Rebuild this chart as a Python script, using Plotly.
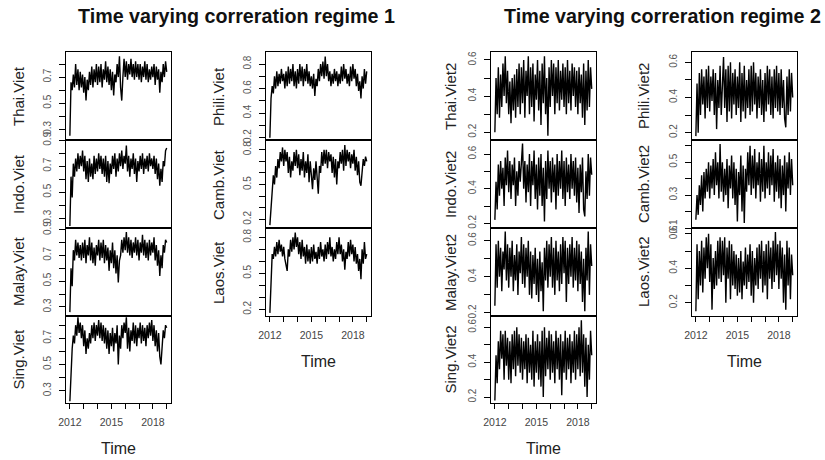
import plotly.graph_objects as go

# ---------------- data (monthly, Jan 2012 .. Jan 2019) ----------------
start_year = 2012.0
n_months = 85
time = [start_year + m / 12 for m in range(n_months)]

thai_viet = [0.25, 0.66, 0.60, 0.72, 0.62, 0.80, 0.64, 0.76, 0.60, 0.74, 0.62, 0.72,
             0.58, 0.70, 0.52, 0.68, 0.60, 0.74, 0.64, 0.78, 0.62, 0.76, 0.66, 0.80,
             0.64, 0.78, 0.66, 0.80, 0.62, 0.76, 0.68, 0.82, 0.66, 0.78, 0.64, 0.76,
             0.60, 0.74, 0.56, 0.72, 0.66, 0.80, 0.70, 0.86, 0.62, 0.52, 0.70, 0.84,
             0.70, 0.82, 0.68, 0.80, 0.72, 0.84, 0.70, 0.80, 0.68, 0.82, 0.70, 0.80,
             0.68, 0.80, 0.66, 0.78, 0.70, 0.82, 0.68, 0.80, 0.66, 0.76, 0.68, 0.78,
             0.70, 0.80, 0.64, 0.78, 0.68, 0.76, 0.58, 0.74, 0.66, 0.80, 0.70, 0.82,
             0.74]
indo_viet = [0.24, 0.62, 0.46, 0.72, 0.62, 0.76, 0.66, 0.80, 0.68, 0.78, 0.70, 0.82,
             0.66, 0.78, 0.60, 0.74, 0.58, 0.76, 0.62, 0.72, 0.60, 0.78, 0.64, 0.76,
             0.66, 0.80, 0.68, 0.78, 0.64, 0.76, 0.62, 0.78, 0.58, 0.74, 0.57, 0.72,
             0.64, 0.78, 0.68, 0.80, 0.62, 0.76, 0.66, 0.80, 0.70, 0.82, 0.68, 0.78,
             0.72, 0.86, 0.66, 0.78, 0.62, 0.76, 0.68, 0.80, 0.64, 0.76, 0.58, 0.74,
             0.66, 0.78, 0.68, 0.80, 0.64, 0.76, 0.68, 0.78, 0.66, 0.80, 0.70, 0.76,
             0.68, 0.78, 0.64, 0.76, 0.60, 0.72, 0.55, 0.68, 0.58, 0.74, 0.70, 0.82,
             0.84]
malay_viet = [0.26, 0.60, 0.46, 0.74, 0.66, 0.82, 0.70, 0.80, 0.68, 0.78, 0.66, 0.80,
              0.68, 0.82, 0.64, 0.78, 0.70, 0.84, 0.66, 0.80, 0.64, 0.76, 0.62, 0.78,
              0.70, 0.82, 0.66, 0.80, 0.68, 0.82, 0.64, 0.78, 0.66, 0.76, 0.58, 0.74,
              0.64, 0.80, 0.60, 0.74, 0.56, 0.70, 0.49, 0.66, 0.70, 0.82, 0.72, 0.84,
              0.74, 0.88, 0.72, 0.84, 0.70, 0.82, 0.68, 0.80, 0.72, 0.84, 0.70, 0.82,
              0.66, 0.80, 0.72, 0.86, 0.70, 0.82, 0.68, 0.80, 0.66, 0.82, 0.70, 0.80,
              0.72, 0.84, 0.66, 0.78, 0.62, 0.74, 0.54, 0.70, 0.60, 0.78, 0.72, 0.82,
              0.80]
sing_viet = [0.22, 0.46, 0.62, 0.72, 0.66, 0.80, 0.72, 0.86, 0.74, 0.82, 0.70, 0.80,
             0.64, 0.76, 0.58, 0.70, 0.62, 0.74, 0.66, 0.80, 0.70, 0.82, 0.68, 0.80,
             0.72, 0.84, 0.70, 0.82, 0.68, 0.80, 0.66, 0.78, 0.62, 0.76, 0.58, 0.74,
             0.64, 0.78, 0.60, 0.74, 0.66, 0.80, 0.50, 0.72, 0.62, 0.80, 0.70, 0.82,
             0.74, 0.86, 0.62, 0.78, 0.60, 0.76, 0.68, 0.82, 0.66, 0.80, 0.64, 0.78,
             0.70, 0.82, 0.66, 0.80, 0.68, 0.78, 0.64, 0.80, 0.70, 0.82, 0.72, 0.84,
             0.68, 0.80, 0.64, 0.76, 0.60, 0.74, 0.56, 0.50, 0.62, 0.76, 0.70, 0.80,
             0.78]
phili_viet = [0.20, 0.52, 0.62, 0.56, 0.70, 0.60, 0.74, 0.62, 0.72, 0.64, 0.76, 0.66,
              0.72, 0.60, 0.74, 0.62, 0.78, 0.64, 0.76, 0.66, 0.80, 0.62, 0.74, 0.60,
              0.76, 0.64, 0.80, 0.66, 0.78, 0.62, 0.76, 0.66, 0.80, 0.64, 0.74, 0.62,
              0.70, 0.60, 0.72, 0.54, 0.68, 0.62, 0.76, 0.66, 0.80, 0.70, 0.82, 0.68,
              0.86, 0.70, 0.80, 0.66, 0.74, 0.62, 0.72, 0.64, 0.76, 0.66, 0.74, 0.62,
              0.72, 0.64, 0.78, 0.66, 0.80, 0.68, 0.76, 0.64, 0.72, 0.62, 0.78, 0.66,
              0.80, 0.68, 0.76, 0.62, 0.72, 0.58, 0.66, 0.52, 0.70, 0.60, 0.76, 0.64,
              0.74]
camb_viet = [0.15, 0.30, 0.42, 0.58, 0.50, 0.66, 0.56, 0.72, 0.64, 0.78, 0.70, 0.82,
             0.66, 0.80, 0.70, 0.78, 0.60, 0.74, 0.56, 0.70, 0.62, 0.78, 0.66, 0.80,
             0.64, 0.76, 0.58, 0.72, 0.62, 0.78, 0.56, 0.70, 0.60, 0.76, 0.52, 0.70,
             0.58, 0.46, 0.64, 0.54, 0.70, 0.50, 0.42, 0.66, 0.60, 0.78, 0.66, 0.80,
             0.68, 0.80, 0.64, 0.78, 0.70, 0.76, 0.60, 0.74, 0.56, 0.72, 0.50, 0.70,
             0.64, 0.78, 0.68, 0.80, 0.62, 0.84, 0.66, 0.80, 0.70, 0.78, 0.64, 0.76,
             0.68, 0.80, 0.62, 0.74, 0.58, 0.70, 0.52, 0.49, 0.60, 0.72, 0.66, 0.74,
             0.70]
laos_viet = [0.17, 0.40, 0.66, 0.62, 0.72, 0.64, 0.76, 0.66, 0.78, 0.68, 0.74, 0.64,
             0.72, 0.62, 0.58, 0.52, 0.70, 0.64, 0.78, 0.68, 0.80, 0.70, 0.84, 0.72,
             0.80, 0.66, 0.76, 0.62, 0.78, 0.64, 0.72, 0.58, 0.74, 0.60, 0.70, 0.58,
             0.72, 0.60, 0.74, 0.62, 0.68, 0.58, 0.72, 0.62, 0.76, 0.64, 0.70, 0.60,
             0.74, 0.62, 0.76, 0.66, 0.80, 0.64, 0.72, 0.60, 0.70, 0.62, 0.76, 0.66,
             0.80, 0.66, 0.74, 0.60, 0.70, 0.53, 0.68, 0.62, 0.76, 0.64, 0.78, 0.66,
             0.74, 0.60, 0.72, 0.58, 0.66, 0.52, 0.62, 0.45, 0.70, 0.58, 0.76, 0.62,
             0.66]

thai_viet2 = [0.20, 0.50, 0.30, 0.56, 0.28, 0.52, 0.34, 0.58, 0.40, 0.62, 0.36, 0.54,
              0.30, 0.48, 0.25, 0.50, 0.32, 0.52, 0.28, 0.55, 0.34, 0.58, 0.30, 0.56,
              0.36, 0.60, 0.28, 0.54, 0.40, 0.62, 0.30, 0.56, 0.34, 0.58, 0.26, 0.52,
              0.38, 0.60, 0.32, 0.54, 0.24, 0.58, 0.36, 0.62, 0.30, 0.50, 0.18, 0.56,
              0.34, 0.60, 0.40, 0.58, 0.30, 0.56, 0.36, 0.60, 0.32, 0.54, 0.38, 0.58,
              0.34, 0.56, 0.30, 0.60, 0.36, 0.54, 0.32, 0.58, 0.40, 0.56, 0.34, 0.54,
              0.30, 0.56, 0.36, 0.52, 0.28, 0.58, 0.24, 0.54, 0.32, 0.60, 0.34, 0.56,
              0.44]
indo_viet2 = [0.22, 0.44, 0.28, 0.54, 0.36, 0.56, 0.40, 0.52, 0.30, 0.58, 0.42, 0.62,
              0.38, 0.56, 0.34, 0.54, 0.42, 0.58, 0.30, 0.50, 0.36, 0.56, 0.44, 0.60,
              0.66, 0.40, 0.56, 0.32, 0.54, 0.38, 0.60, 0.30, 0.56, 0.42, 0.62, 0.34,
              0.54, 0.28, 0.58, 0.36, 0.60, 0.30, 0.52, 0.21, 0.56, 0.34, 0.62, 0.40,
              0.56, 0.32, 0.58, 0.38, 0.54, 0.28, 0.60, 0.36, 0.56, 0.40, 0.62, 0.34,
              0.56, 0.30, 0.58, 0.38, 0.54, 0.34, 0.60, 0.40, 0.56, 0.36, 0.58, 0.32,
              0.52, 0.26, 0.54, 0.38, 0.58, 0.28, 0.24, 0.50, 0.34, 0.60, 0.36, 0.58,
              0.48]
malay_viet2 = [0.24, 0.58, 0.34, 0.60, 0.40, 0.56, 0.32, 0.54, 0.44, 0.65, 0.38, 0.58,
               0.34, 0.56, 0.40, 0.60, 0.32, 0.52, 0.38, 0.58, 0.30, 0.54, 0.42, 0.62,
               0.36, 0.58, 0.34, 0.56, 0.40, 0.60, 0.30, 0.54, 0.28, 0.52, 0.36, 0.56,
               0.30, 0.50, 0.26, 0.54, 0.32, 0.48, 0.21, 0.56, 0.38, 0.60, 0.34, 0.58,
               0.40, 0.62, 0.34, 0.56, 0.30, 0.60, 0.38, 0.54, 0.32, 0.58, 0.36, 0.62,
               0.42, 0.60, 0.26, 0.56, 0.36, 0.58, 0.40, 0.62, 0.34, 0.56, 0.38, 0.60,
               0.32, 0.58, 0.36, 0.54, 0.26, 0.50, 0.21, 0.56, 0.38, 0.65, 0.30, 0.58,
               0.46]
sing_viet2 = [0.18, 0.44, 0.28, 0.52, 0.36, 0.58, 0.42, 0.56, 0.30, 0.58, 0.38, 0.54,
              0.30, 0.52, 0.28, 0.56, 0.36, 0.58, 0.32, 0.60, 0.38, 0.56, 0.34, 0.54,
              0.30, 0.52, 0.36, 0.56, 0.28, 0.54, 0.34, 0.50, 0.30, 0.58, 0.26, 0.52,
              0.34, 0.56, 0.30, 0.52, 0.26, 0.58, 0.20, 0.60, 0.32, 0.54, 0.36, 0.58,
              0.30, 0.56, 0.34, 0.52, 0.28, 0.58, 0.36, 0.54, 0.30, 0.56, 0.21, 0.52,
              0.34, 0.58, 0.30, 0.54, 0.36, 0.56, 0.28, 0.52, 0.34, 0.58, 0.30, 0.56,
              0.36, 0.60, 0.32, 0.64, 0.34, 0.56, 0.26, 0.54, 0.20, 0.50, 0.30, 0.58,
              0.44]
phili_viet2 = [0.18, 0.48, 0.20, 0.54, 0.30, 0.56, 0.36, 0.52, 0.28, 0.56, 0.34, 0.58,
               0.32, 0.52, 0.38, 0.56, 0.30, 0.54, 0.22, 0.50, 0.34, 0.58, 0.30, 0.54,
               0.63, 0.34, 0.56, 0.26, 0.58, 0.32, 0.60, 0.28, 0.54, 0.36, 0.56, 0.30,
               0.52, 0.34, 0.60, 0.26, 0.54, 0.32, 0.58, 0.28, 0.50, 0.34, 0.56, 0.30,
               0.58, 0.32, 0.60, 0.36, 0.54, 0.28, 0.52, 0.34, 0.56, 0.30, 0.50, 0.26,
               0.54, 0.32, 0.58, 0.36, 0.56, 0.30, 0.52, 0.28, 0.56, 0.34, 0.58, 0.32,
               0.54, 0.30, 0.56, 0.34, 0.50, 0.28, 0.23, 0.52, 0.30, 0.56, 0.32, 0.54,
               0.40]
camb_viet2 = [0.15, 0.30, 0.18, 0.36, 0.24, 0.42, 0.20, 0.44, 0.28, 0.46, 0.32, 0.50,
              0.28, 0.48, 0.34, 0.52, 0.30, 0.56, 0.36, 0.50, 0.28, 0.61, 0.32, 0.50,
              0.26, 0.46, 0.30, 0.52, 0.22, 0.48, 0.34, 0.54, 0.28, 0.50, 0.24, 0.46,
              0.14, 0.44, 0.30, 0.54, 0.20, 0.48, 0.13, 0.46, 0.32, 0.56, 0.36, 0.60,
              0.30, 0.54, 0.34, 0.58, 0.28, 0.50, 0.36, 0.56, 0.26, 0.52, 0.32, 0.60,
              0.28, 0.50, 0.34, 0.56, 0.30, 0.54, 0.36, 0.58, 0.26, 0.50, 0.32, 0.54,
              0.28, 0.52, 0.22, 0.48, 0.30, 0.54, 0.20, 0.50, 0.34, 0.56, 0.30, 0.52,
              0.36]
laos_viet2 = [0.15, 0.54, 0.22, 0.50, 0.30, 0.56, 0.26, 0.52, 0.34, 0.58, 0.40, 0.60,
              0.32, 0.54, 0.16, 0.46, 0.28, 0.50, 0.30, 0.56, 0.34, 0.58, 0.32, 0.56,
              0.36, 0.58, 0.20, 0.52, 0.34, 0.56, 0.22, 0.54, 0.30, 0.50, 0.28, 0.48,
              0.24, 0.46, 0.26, 0.50, 0.22, 0.44, 0.30, 0.52, 0.28, 0.48, 0.32, 0.54,
              0.24, 0.50, 0.20, 0.46, 0.30, 0.52, 0.28, 0.54, 0.34, 0.56, 0.26, 0.50,
              0.30, 0.54, 0.22, 0.56, 0.34, 0.52, 0.28, 0.56, 0.32, 0.61, 0.36, 0.54,
              0.28, 0.56, 0.34, 0.52, 0.20, 0.48, 0.16, 0.56, 0.30, 0.52, 0.22, 0.48,
              0.36]

# tick labels
x_tick_years = [2012, 2013, 2014, 2015, 2016, 2017, 2018, 2019]
x_tick_labels = ["2012", "", "", "2015", "", "", "2018", ""]

titles = ["Time varying correration regime 1", "Time varying correration regime 2"]

# ---------------- layout helpers ----------------
W, H = 825, 460
FONT = "Liberation Sans, Arial, Helvetica, sans-serif"
col_px = [(66, 171), (266, 371), (491, 596), (692, 797)]
row_px = [(52, 140), (140, 228), (228, 316), (316, 403)]
ylab_x = [18, 218, 450, 643]
x_range = [2011.72, 2019.31]


def ticks(lo, hi, shown):
    vals = [round(lo + 0.1 * k, 1) for k in range(int(round((hi - lo) / 0.1)) + 1)]
    text = [("%.1f" % v) if round(v, 1) in shown else "" for v in vals]
    return vals, text


# name, series, col, row, y-range, tick lo, tick hi, shown labels, bottom?
panels = [
    ("Thai.Viet", thai_viet, 0, 0, [0.218, 0.892], 0.3, 0.8, [0.3, 0.5, 0.7], False),
    ("Indo.Viet", indo_viet, 0, 1, [0.225, 0.902], 0.3, 0.9, [0.3, 0.5, 0.7, 0.9], False),
    ("Malay.Viet", malay_viet, 0, 2, [0.230, 0.912], 0.3, 0.9, [0.3, 0.5, 0.7, 0.9], False),
    ("Sing.Viet", sing_viet, 0, 3, [0.206, 0.870], 0.3, 0.8, [0.3, 0.5, 0.7], True),
    ("Phili.Viet", phili_viet, 1, 0, [0.181, 0.898], 0.2, 0.8, [0.2, 0.4, 0.6, 0.8], False),
    ("Camb.Viet", camb_viet, 1, 1, [0.125, 0.884], 0.2, 0.8, [0.2, 0.5, 0.8], False),
    ("Laos.Viet", laos_viet, 1, 2, [0.144, 0.878], 0.2, 0.8, [0.2, 0.5, 0.8], True),
    ("Thai.Viet2", thai_viet2, 2, 0, [0.157, 0.644], 0.2, 0.6, [0.2, 0.4, 0.6], False),
    ("Indo.Viet2", indo_viet2, 2, 1, [0.173, 0.681], 0.2, 0.6, [0.2, 0.4, 0.6], False),
    ("Malay.Viet2", malay_viet2, 2, 2, [0.183, 0.670], 0.2, 0.6, [0.2, 0.4, 0.6], False),
    ("Sing.Viet2", sing_viet2, 2, 3, [0.166, 0.665], 0.2, 0.6, [0.2, 0.4, 0.6], True),
    ("Phili.Viet2", phili_viet2, 3, 0, [0.158, 0.659], 0.2, 0.6, [0.2, 0.4, 0.6], False),
    ("Camb.Viet2", camb_viet2, 3, 1, [0.100, 0.635], 0.1, 0.6, [0.1, 0.3, 0.5], False),
    ("Laos.Viet2", laos_viet2, 3, 2, [0.123, 0.634], 0.2, 0.6, [0.2, 0.4, 0.6], True),
]

fig = go.Figure()
layout = dict(
    width=W, height=H, margin=dict(l=0, r=0, t=0, b=0, pad=0, autoexpand=False),
    paper_bgcolor="white", plot_bgcolor="white", showlegend=False,
    font=dict(family=FONT, color="#222"),
)
annotations = []

for i, (name, series, c, r, yr, tlo, thi, shown, bottom) in enumerate(panels):
    k = "" if i == 0 else str(i + 1)
    x0, x1 = col_px[c]
    y0, y1 = row_px[r]
    fig.add_trace(go.Scatter(
        x=time, y=series, mode="lines",
        line=dict(color="black", width=1.4),
        xaxis="x" + k, yaxis="y" + k, hoverinfo="skip"))
    yv, yt = ticks(tlo, thi, shown)
    layout["xaxis" + k] = dict(
        domain=[x0 / W, x1 / W], anchor="y" + k, range=x_range, automargin=False,
        showgrid=False, zeroline=False, showline=True, mirror=True,
        linecolor="black", linewidth=1,
        tickmode="array", tickvals=x_tick_years, ticktext=x_tick_labels,
        ticks="outside" if bottom else "", ticklen=5, tickcolor="black",
        showticklabels=bottom, tickfont=dict(size=10.5, color="#444", family=FONT),
        ticklabelstandoff=4,
    )
    layout["yaxis" + k] = dict(
        domain=[1 - y1 / H, 1 - y0 / H], anchor="x" + k, range=yr, automargin=False,
        showgrid=False, zeroline=False, showline=True, mirror=True,
        linecolor="black", linewidth=1,
        tickmode="array", tickvals=yv, ticktext=yt,
        ticks="outside", ticklen=6, tickcolor="black", tickangle=-90,
        tickfont=dict(size=10, color="#555", family=FONT),
        ticklabelstandoff=4,
    )
    annotations.append(dict(
        text=name, x=ylab_x[c] / W, y=1 - (y0 + y1) / 2 / H,
        xref="paper", yref="paper", xanchor="center", yanchor="middle",
        showarrow=False, textangle=-90, font=dict(size=15, color="#222", family=FONT)))
    if bottom:
        annotations.append(dict(
            text="Time", x=(x0 + x1) / 2 / W, y=1 - (y1 + 45) / H,
            xref="paper", yref="paper", xanchor="center", yanchor="middle",
            showarrow=False, font=dict(size=16, color="#222", family=FONT)))

for t, cx in zip(titles, [236.5, 662.5]):
    annotations.append(dict(
        text="<b>" + t + "</b>", x=cx / W, y=1 - 16 / H,
        xref="paper", yref="paper", xanchor="center", yanchor="middle",
        showarrow=False, font=dict(size=19.7, color="#111", family=FONT)))

layout["annotations"] = annotations
fig.update_layout(**layout)
fig.write_html("out.html",
               config={"displayModeBar": False, "staticPlot": True},
               post_script="document.body.style.margin='0';document.body.style.overflow='hidden';")
